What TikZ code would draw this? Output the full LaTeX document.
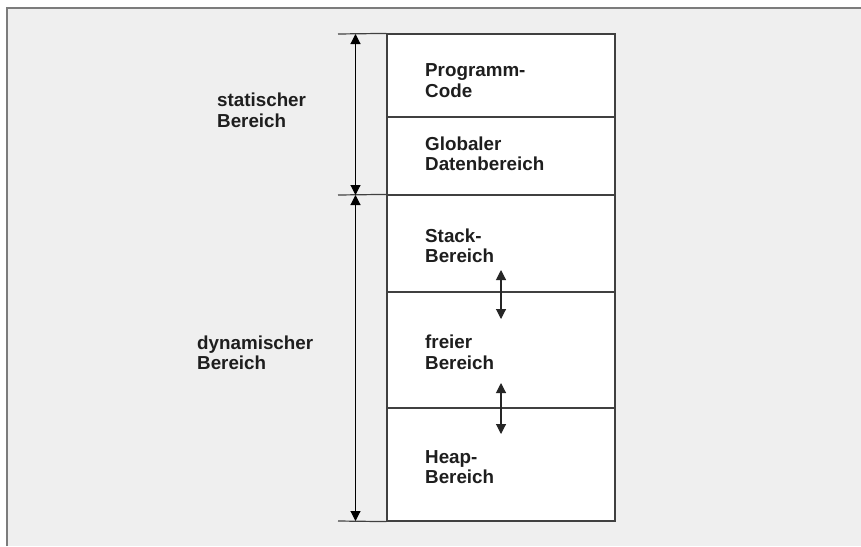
\documentclass[tikz,border=0pt]{standalone}
\usepackage{fontspec}
\setmainfont{Liberation Sans}
\usetikzlibrary{arrows.meta}
\definecolor{panel}{HTML}{EFEFEF}
\definecolor{frameline}{HTML}{7C7C7C}
\definecolor{boxline}{HTML}{404040}
\definecolor{labeltext}{HTML}{1E1E1E}
\newcommand\twolines[2]{\begin{tabular}[t]{@{}l@{}}#1\\#2\end{tabular}}
\tikzset{
  membox/.style={draw=boxline, line width=1.2pt, fill=white, minimum width=228pt, inner sep=0pt},
  label/.style={anchor=base west, inner sep=0pt, text=labeltext,
    font=\bfseries\fontsize{18.8}{20.8}\selectfont},
  dimline/.style={black, line width=1.1pt, {Triangle[length=10pt,width=10pt]}-{Triangle[length=10pt,width=10pt]}},
  growline/.style={black!85, line width=1.1pt, {Triangle[length=10pt,width=10pt]}-{Triangle[length=10pt,width=10pt]}},
  tickline/.style={draw=boxline, line width=1.2pt}
}
\begin{document}
\begin{tikzpicture}[x=1pt,y=-1pt]
  \useasboundingbox (0,0) rectangle (861,546);
  % page and panel
  \fill[white] (0,0) rectangle (861,546);
  \fill[panel] (7,8) rectangle (861,546);
  \draw[frameline, line width=2pt] (7,546) -- (7,8) -- (861,8);

  % memory segments
  \node[membox, minimum height=83pt]  (code)  at (501,75.5)  {};
  \node[membox, minimum height=78pt]  (data)  at (501,156)   {};
  \node[membox, minimum height=97pt]  (stack) at (501,243.5) {};
  \node[membox, minimum height=116pt] (free)  at (501,350)   {};
  \node[membox, minimum height=113pt] (heap)  at (501,464.5) {};

  % segment labels
  \node[label] (tcode)  at (425,76.7)  {\twolines{Programm-}{Code}};
  \node[label] (tdata)  at (425,150)   {\twolines{Globaler}{Datenbereich}};
  \node[label] (tstack) at (425,242)   {\twolines{Stack-}{Bereich}};
  \node[label] (tfree)  at (425,348.5) {\twolines{freier}{Bereich}};
  \node[label] (theap)  at (425,463)   {\twolines{Heap-}{Bereich}};

  % region labels
  \node[label] (tstat) at (217,106.7) {\twolines{statischer}{Bereich}};
  \node[label] (tdyn)  at (197,349)   {\twolines{dynamischer}{Bereich}};

  % extension ticks for the dimension arrows
  \coordinate (k1) at (338,34);
  \coordinate (k2) at (338,195);
  \coordinate (k3) at (338,521);
  \draw[tickline] (k1) -- (code.north west);
  \draw[tickline] (k2) -- (stack.north west);
  \draw[tickline] (k3) -- (heap.south west);

  % dimension arrows
  \coordinate (a1) at (355.5,34);
  \coordinate (a2) at (355.5,195);
  \coordinate (a3) at (355.5,521);
  \draw[dimline] (a1) -- (a2);
  \draw[dimline] (a2) -- (a3);

  % growth arrows between stack, free area and heap
  \coordinate (g1) at (501,270);
  \coordinate (g2) at (501,319);
  \coordinate (g3) at (501,383);
  \coordinate (g4) at (501,434);
  \draw[growline] (g1) -- (g2);
  \draw[growline] (g3) -- (g4);
\end{tikzpicture}
\end{document}
